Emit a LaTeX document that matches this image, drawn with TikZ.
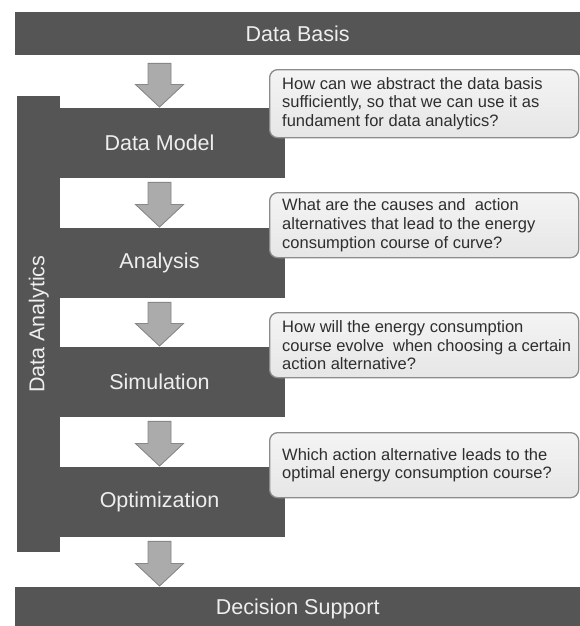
\documentclass[tikz,border=0pt]{standalone}
\usepackage{fontspec}
\setmainfont{Liberation Sans}
\usetikzlibrary{calc}

\definecolor{barfill}{HTML}{555555}
\definecolor{bartext}{HTML}{EEEEEE}
\definecolor{arrowfill}{HTML}{ABABAB}
\definecolor{arrowline}{HTML}{878787}
\definecolor{notetop}{HTML}{F4F4F4}
\definecolor{notebottom}{HTML}{E6E6E6}
\definecolor{noteline}{HTML}{8C8C8C}
\definecolor{notetext}{HTML}{2E2E2E}

\newcommand\biglabel{\fontsize{21.5}{24}\selectfont}
\newcommand\notesize{\fontsize{16.5}{18.6}\selectfont}

\tikzset{
  bar/.style={fill=barfill, draw=none, inner sep=0pt, text=bartext, font=\biglabel},
  stage/.style={fill=barfill, draw=none, inner sep=0pt, minimum width=225pt, minimum height=70pt, anchor=north west},
  stagelabel/.style={text=bartext, font=\biglabel, inner sep=0pt},
  blockarrowstyle/.style={fill=arrowfill, draw=arrowline, line width=0.9pt, line join=miter},
  note/.style={draw=noteline, line width=1.3pt, rounded corners=8pt, top color=notetop, bottom color=notebottom,
    minimum width=309pt, inner sep=0pt, anchor=north west},
  notebody/.style={text=notetext, font=\notesize, align=left, inner sep=0pt, anchor=west},
}

% block arrow from a start point (#2) down to an end point (#3); #1 = gap below the start
\newcommand\blockarrow[3][4]{%
  \coordinate (ba-s) at (#2);
  \coordinate (ba-e) at (#3);
  \draw[blockarrowstyle]
    ($(ba-s)+(-11.5,#1)$) -- ($(ba-s)+(11.5,#1)$) -- ($(ba-e)+(11.5,-23.5)$) -- ($(ba-e)+(24,-23.5)$)
    -- ($(ba-e)+(0,-1)$) -- ($(ba-e)+(-24,-23.5)$) -- ($(ba-e)+(-11.5,-23.5)$) -- cycle;
}

\begin{document}
\begin{tikzpicture}[x=1pt, y=-1pt]
  \fill[white] (0,0) rectangle (580,626);
  \useasboundingbox (0,0) rectangle (580,626);

  % column on which the stage labels and arrows sit
  \coordinate (axis) at (159.5,0);

  % top and bottom bars
  \node[bar, minimum width=565pt, minimum height=43pt, anchor=north west] (basis) at (15,12) {Data Basis};
  \node[bar, minimum width=565pt, minimum height=43pt, anchor=north west] (decision) at (15,587) {Decision Support};

  % vertical bracket
  \node[bar, minimum width=43pt, minimum height=456pt, anchor=north west] (analytics) at (17,96) {};
  \node[stagelabel, rotate=90] (analyticslabel) at (analytics.center) {Data Analytics};

  % stages
  \node[stage] (model) at (60,108) {};
  \node[stage] (analysis) at (60,228) {};
  \node[stage] (simulation) at (60,347) {};
  \node[stage] (optimization) at (60,467) {};

  \node[stagelabel] (modellabel) at (axis |- model.center) {Data Model};
  \node[stagelabel] (analysislabel) at (axis |- analysis.center) {Analysis};
  \node[stagelabel] (simulationlabel) at (axis |- simulation.center) {Simulation};
  \node[stagelabel] (optimizationlabel) at (axis |- optimization.center) {Optimization};

  % arrows
  \blockarrow[8]{basis.south -| axis}{model.north -| axis}
  \blockarrow{model.south -| axis}{analysis.north -| axis}
  \blockarrow{analysis.south -| axis}{simulation.north -| axis}
  \blockarrow{simulation.south -| axis}{optimization.north -| axis}
  \blockarrow{optimization.south -| axis}{decision.north -| axis}

  % question callouts
  \node[note, minimum height=68pt] (q1) at (269,69) {};
  \node[notebody] (q1text) at ($(q1.west)+(13,0)$) {How can we abstract the data basis\\sufficiently, so that we can use it as\\fundament for data analytics?};

  \node[note, minimum height=65pt] (q2) at (269,192) {};
  \node[notebody] (q2text) at ($(q2.west)+(13,0)$) {What are the causes and\ \ action\\alternatives that lead to the energy\\consumption course of curve?};

  \node[note, minimum height=65pt] (q3) at (269,312) {};
  \node[notebody] (q3text) at ($(q3.west)+(13,0)$) {How will the energy consumption\\course evolve\ \ when choosing a certain\\action alternative?};

  \node[note, minimum height=65pt] (q4) at (269,432) {};
  \node[notebody] (q4text) at ($(q4.west)+(13,0)$) {Which action alternative leads to the\\optimal energy consumption course?};
\end{tikzpicture}
\end{document}
